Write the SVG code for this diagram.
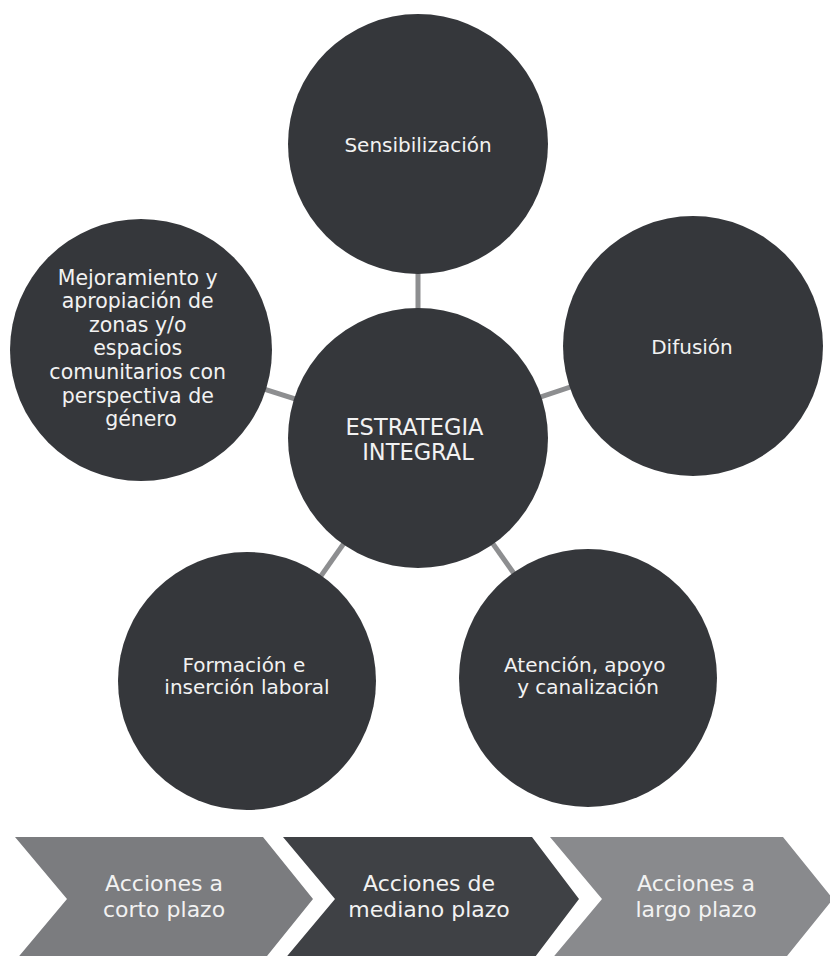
<svg xmlns="http://www.w3.org/2000/svg" width="830" height="956" viewBox="0 0 830 956">
<style>
.node{fill:#35373b}
.t{font-family:"DejaVu Sans","Liberation Sans",sans-serif;fill:#f2f2f2;text-anchor:middle}
.c{stroke:#8d8e90;stroke-width:5;fill:none}
</style>
<rect width="830" height="956" fill="#ffffff"/>
<g id="connectors">
<line class="c" x1="418" y1="438" x2="418" y2="144"/>
<line class="c" x1="418" y1="438" x2="693" y2="346"/>
<line class="c" x1="418" y1="438" x2="141" y2="350"/>
<line class="c" x1="418" y1="438" x2="247" y2="681"/>
<line class="c" x1="418" y1="438" x2="588" y2="678"/>
</g>
<g id="sensibilizacion">
<circle class="node" cx="418" cy="144" r="130"/>
<text class="t" x="418" y="152" font-size="20">Sensibilización</text>
</g>
<g id="difusion">
<circle class="node" cx="693" cy="346" r="130"/>
<text class="t" x="692" y="354" font-size="20">Difusión</text>
</g>
<g id="mejoramiento">
<circle class="node" cx="141" cy="350" r="131"/>
<text class="t" font-size="20.5">
<tspan x="141" y="284.5">Mejoramiento y</tspan>
<tspan x="141" y="308">apropiación de</tspan>
<tspan x="141" y="331.5">zonas y/o</tspan>
<tspan x="141" y="355">espacios</tspan>
<tspan x="141" y="379">comunitarios con</tspan>
<tspan x="141" y="402.5">perspectiva de</tspan>
<tspan x="141" y="426">género</tspan>
</text>
</g>
<g id="estrategia">
<circle class="node" cx="418" cy="438" r="130"/>
<text class="t" font-size="22.5">
<tspan x="418" y="435">ESTRATEGIA</tspan>
<tspan x="418" y="460">INTEGRAL</tspan>
</text>
</g>
<g id="formacion">
<circle class="node" cx="247" cy="681" r="129"/>
<text class="t" font-size="20">
<tspan x="247" y="672">Formación e</tspan>
<tspan x="247" y="694">inserción laboral</tspan>
</text>
</g>
<g id="atencion">
<circle class="node" cx="588" cy="678" r="129"/>
<text class="t" font-size="20">
<tspan x="588" y="672">Atención, apoyo</tspan>
<tspan x="588" y="694">y canalización</tspan>
</text>
</g>
<g id="corto">
<polygon points="15,837 263,837 313,899 263,961 15,961 67,899" fill="#7b7c7f"/>
<text class="t" font-size="22"><tspan x="164" y="891">Acciones a</tspan><tspan x="164" y="917">corto plazo</tspan></text>
</g>
<g id="mediano">
<polygon points="283,837 532,837 579,899 532,961 283,961 335,899" fill="#3f4145"/>
<text class="t" font-size="22"><tspan x="429" y="891">Acciones de</tspan><tspan x="429" y="917">mediano plazo</tspan></text>
</g>
<g id="largo">
<polygon points="550,837 783,837 833,899 783,961 550,961 602,899" fill="#898a8d"/>
<text class="t" font-size="22"><tspan x="696" y="891">Acciones a</tspan><tspan x="696" y="917">largo plazo</tspan></text>
</g>
</svg>
